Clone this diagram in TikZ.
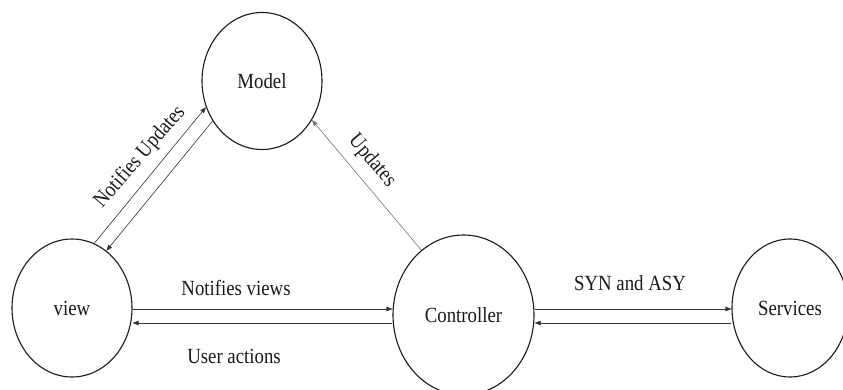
\documentclass[tikz,border=0pt]{standalone}
\usepackage{fontspec}
\setmainfont{Liberation Serif}
\usetikzlibrary{shapes.geometric,arrows.meta}
\newcommand\tallbox[1]{\scalebox{1}[1.15]{#1}}
\tikzset{
  state/.style={ellipse, draw=black!90, line width=1.1pt, inner sep=0pt,
    font=\fontsize{18.8}{20}\selectfont, text=black!90},
  flow/.style={line width=0.6pt, draw=black!80,
    -{Triangle[length=6pt,width=4.5pt]}},
  lbl/.style={inner sep=0pt, font=\fontsize{18.8}{20}\selectfont, text=black!90}
}
\begin{document}
\begin{tikzpicture}[x=1pt,y=-1pt]
  \useasboundingbox (0,0) rectangle (843,390);
  \clip (0,0) rectangle (843,390);

  % components
  \node[state, minimum width=120pt, minimum height=137pt] (model) at (262,81) {\tallbox{Model}};
  \node[state, minimum width=120pt, minimum height=138pt] (view) at (72,308) {\tallbox{view}};
  \node[state, minimum width=141pt, minimum height=160pt] (controller) at (463.5,315) {\tallbox{Controller}};
  \node[state, minimum width=116pt, minimum height=138pt] (services) at (790,308) {\tallbox{Services}};

  % view <-> model
  \draw[flow] (view.71) -- (model.205);
  \draw[flow] (model.219) -- (view.59);
  \node[lbl, rotate=49] (nu) at (140,157) {\tallbox{Notifies Updates}};

  % controller -> model
  \draw[flow, draw=black!55] (controller.123) -- (model.322);
  \node[lbl, rotate=-50] (up) at (372,161) {\tallbox{Updates}};

  % view <-> controller
  \draw[flow] ([yshift=-1pt]view.east) -- ([yshift=-1pt]view.east -| controller.west);
  \draw[flow] ([yshift=-15pt]view.east -| controller.west) -- ([yshift=-15pt]view.east);
  \node[lbl] (nv) at (236,288) {\tallbox{Notifies views}};
  \node[lbl] (ua) at (234,356) {\tallbox{User actions}};

  % controller <-> services
  \draw[flow] ([yshift=-1pt]services.west -| controller.east) -- ([yshift=-1pt]services.west);
  \draw[flow] ([yshift=-15pt]services.west) -- ([yshift=-15pt]services.west -| controller.east);
  \node[lbl] (sa) at (630,283) {\tallbox{SYN and ASY}};
\end{tikzpicture}
\end{document}
